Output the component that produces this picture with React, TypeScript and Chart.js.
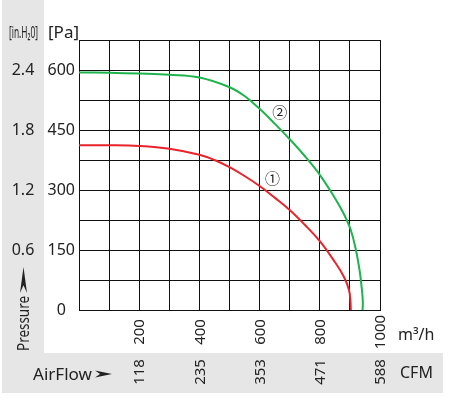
import React, { useEffect, useRef } from "react";
import { Chart, registerables } from "chart.js";

Chart.register(...registerables);

// ---- data ----
const curve1Flow = [0, 100, 200, 300, 400, 450, 500, 550, 600, 650, 700, 750, 800, 850, 880, 897, 902, 903];
const curve1Pressure = [412, 412, 410, 403, 388, 375, 357, 335, 310, 281, 250, 213, 172, 120, 83, 50, 20, 0];

const curve2Flow = [0, 100, 200, 300, 400, 500, 550, 600, 650, 700, 750, 800, 850, 880, 903, 920, 932, 940, 943, 942];
const curve2Pressure = [594, 593, 591, 588, 581, 557, 535, 503, 466, 427, 385, 338, 280, 240, 200, 150, 100, 50, 20, 0];

const pressureTicksPa = [0, 150, 300, 450, 600];
const pressureTicksInH2O = ["", "0.6", "1.2", "1.8", "2.4"];
const flowTicksM3h = [200, 400, 600, 800, 1000];
const flowTicksCFM = ["118", "235", "353", "471", "588"];
const curveNames = ["①", "②"];

const FONT = "'Noto Sans', 'DejaVu Sans', sans-serif";
const TEXT = "#222";
const GRID = "#111";

function drawArrowRight(ctx: CanvasRenderingContext2D, x0: number, x1: number, y: number) {
  const len = x1 - x0;
  ctx.beginPath();
  ctx.moveTo(x0, y - 3.5);
  ctx.lineTo(x1, y);
  ctx.lineTo(x0, y + 3.5);
  ctx.lineTo(x0 + len * 0.3, y);
  ctx.closePath();
  ctx.fill();
}

function drawFitted(ctx: CanvasRenderingContext2D, text: string, x: number, y: number, width: number) {
  const w = ctx.measureText(text).width;
  ctx.save();
  ctx.translate(x, y);
  ctx.scale(width / w, 1);
  ctx.fillText(text, 0, 0);
  ctx.restore();
}

const decorPlugin = {
  id: "decor",
  beforeDraw(chart: any) {
    const ctx = chart.ctx as CanvasRenderingContext2D;
    ctx.save();
    ctx.fillStyle = "#e6e6e6";
    ctx.fillRect(2, 0, 42, 353);
    ctx.fillRect(2, 353, 441, 40);
    ctx.restore();
  },
  afterDraw(chart: any) {
    const ctx = chart.ctx as CanvasRenderingContext2D;
    const xs = chart.scales.x;
    const ys = chart.scales.y;
    ctx.save();
    ctx.fillStyle = TEXT;

    // in.H2O tick labels
    ctx.font = `16px ${FONT}`;
    ctx.textAlign = "center";
    ctx.textBaseline = "middle";
    pressureTicksPa.forEach((v, i) => {
      if (!pressureTicksInH2O[i]) return;
      ctx.fillText(pressureTicksInH2O[i], 23, ys.getPixelForValue(v));
    });

    // unit headers
    ctx.textAlign = "left";
    ctx.textBaseline = "alphabetic";
    ctx.font = `16px ${FONT}`;
    drawFitted(ctx, "[in.H₂0]", 9, 38, 29);
    ctx.font = `17px ${FONT}`;
    ctx.fillText("[Pa]", 48, 38);

    // x tick labels (m3/h) and CFM, rotated
    ctx.font = `15px ${FONT}`;
    ctx.textAlign = "center";
    ctx.textBaseline = "middle";
    flowTicksM3h.forEach((v, i) => {
      const px = xs.getPixelForValue(v);
      ctx.save();
      ctx.translate(px + 1, 332);
      ctx.rotate(-Math.PI / 2);
      ctx.fillText(String(v), 0, 0);
      ctx.restore();
      ctx.save();
      ctx.translate(px + 1, 372);
      ctx.rotate(-Math.PI / 2);
      ctx.fillText(flowTicksCFM[i], 0, 0);
      ctx.restore();
    });

    // unit labels right side
    ctx.textAlign = "left";
    ctx.textBaseline = "alphabetic";
    ctx.font = `16px ${FONT}`;
    ctx.fillText("m³/h", 398, 340);
    ctx.fillText("CFM", 400, 378);

    // AirFlow
    drawFitted(ctx, "AirFlow", 33, 380, 59);
    drawArrowRight(ctx, 95, 112, 374);

    // Pressure (rotated)
    ctx.save();
    ctx.translate(28.5, 351);
    ctx.rotate(-Math.PI / 2);
    ctx.font = `16px ${FONT}`;
    drawFitted(ctx, "Pressure", 0, 0, 55);
    ctx.restore();
    // up arrow
    ctx.save();
    ctx.translate(23.5, 0);
    ctx.rotate(-Math.PI / 2);
    drawArrowRight(ctx, -293, -267, 0);
    ctx.restore();

    // curve markers
    ctx.font = `15px 'Noto Sans CJK SC', 'DejaVu Sans', sans-serif`;
    ctx.textAlign = "center";
    ctx.textBaseline = "middle";
    ctx.fillStyle = "#222";
    ctx.fillText(curveNames[0], xs.getPixelForValue(643), ys.getPixelForValue(330));
    ctx.fillText(curveNames[1], xs.getPixelForValue(667), ys.getPixelForValue(495));

    ctx.restore();
  },
};

export default function App() {
  const ref = useRef<HTMLCanvasElement | null>(null);
  useEffect(() => {
    if (!ref.current) return;
    const chart = new Chart(ref.current, {
      type: "line",
      data: {
        datasets: [
          {
            label: "1",
            data: curve1Flow.map((x, i) => ({ x, y: curve1Pressure[i] })),
            borderColor: "#e8232b",
            borderWidth: 2,
            pointRadius: 0,
            tension: 0.4,
            fill: false,
          },
          {
            label: "2",
            data: curve2Flow.map((x, i) => ({ x, y: curve2Pressure[i] })),
            borderColor: "#1db34d",
            borderWidth: 2,
            pointRadius: 0,
            tension: 0.4,
            fill: false,
          },
        ],
      },
      options: {
        responsive: false,
        animation: false,
        devicePixelRatio: 1,
        layout: { padding: { left: 0, top: 40, right: 69, bottom: 0 } },
        plugins: { legend: { display: false }, tooltip: { enabled: false } },
        scales: {
          x: {
            type: "linear",
            min: 0,
            max: 1000,
            ticks: { display: false, stepSize: 100 },
            grid: { color: GRID, lineWidth: 1, drawTicks: false },
            border: { color: GRID, width: 1 },
            afterFit: (s: any) => {
              s.height = 88;
            },
          },
          y: {
            type: "linear",
            min: 0,
            max: 675,
            ticks: {
              stepSize: 75,
              padding: 4,
              crossAlign: "center",
              color: TEXT,
              font: { family: FONT, size: 16 },
              autoSkip: false,
              callback: (v: any) => (pressureTicksPa.includes(Number(v)) ? String(v) : ""),
            },
            grid: { color: GRID, lineWidth: 1, drawTicks: false },
            border: { color: GRID, width: 1 },
            afterFit: (s: any) => {
              s.width = 79;
            },
          },
        },
      },
      plugins: [decorPlugin],
    } as any);
    return () => chart.destroy();
  }, []);
  return (
    <canvas
      ref={ref}
      width={449}
      height={398}
      style={{ position: "fixed", left: 0, top: 0, width: 449, height: 398 }}
    />
  );
}
